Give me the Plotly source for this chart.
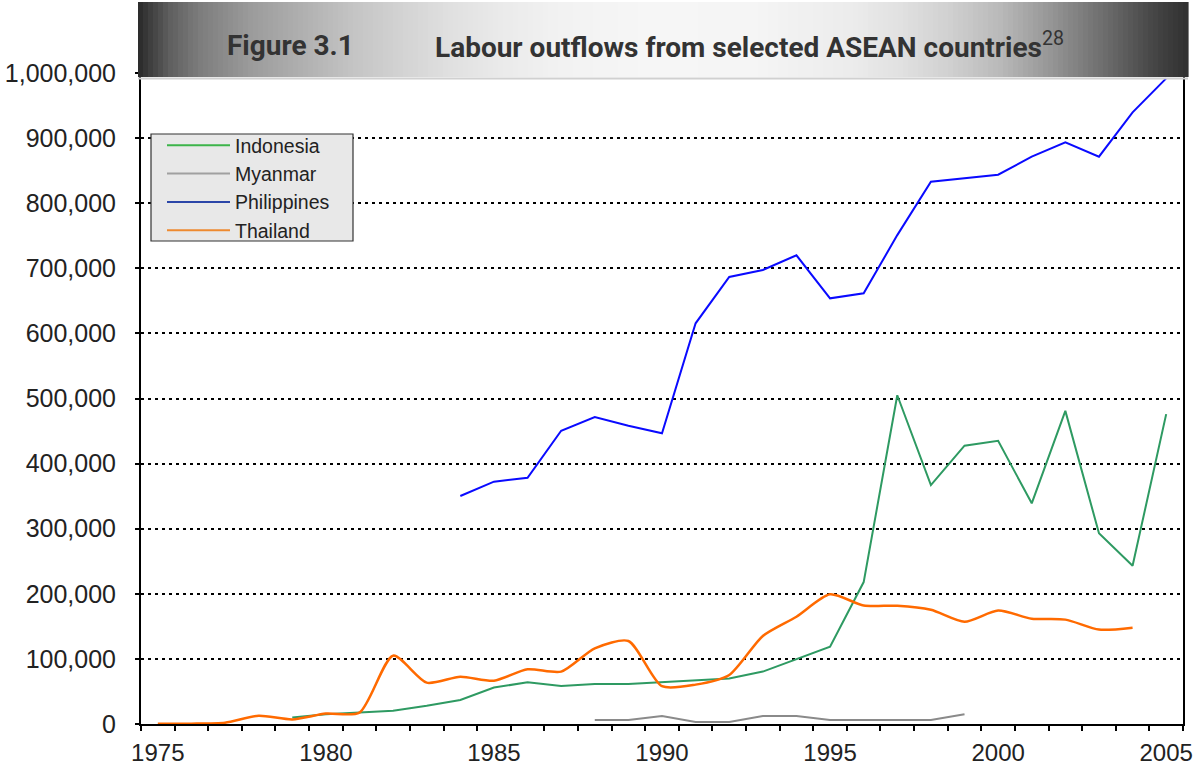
import numpy as np
import plotly.graph_objects as go

# ---- data: annual labour outflows (persons) ----
indonesia_years = list(range(1979, 2006))
indonesia = [10000, 15000, 17500, 20500, 28000, 37000, 56000, 64000, 58500,
             61500, 61500, 64000, 66500, 70000, 80500, 100000, 118700, 218000,
             505000, 367000, 427500, 435000, 339000, 481000, 293000, 243000,
             476000]

myanmar_years = list(range(1988, 2000))
myanmar = [6000, 6000, 12300, 3100, 3100, 12300, 12300, 6100, 6100, 6100,
           6100, 14900]

philippines_years = list(range(1984, 2006))
philippines = [350200, 372200, 378300, 450500, 471600, 458200, 446500, 615500,
               686600, 697400, 719900, 653900, 661600, 751000, 833000, 838200,
               843800, 871500, 893500, 871500, 939600, 991800]

thailand_years = list(range(1975, 2005))
thailand = [500, 500, 2000, 12700, 7000, 16000, 17500, 105000, 63500, 72700,
            66500, 84000, 80400, 116300, 127500, 58000, 60500, 75300, 135200,
            164800, 199200, 182000, 181700, 175500, 157100, 174300, 161800,
            160300, 145000, 148000]

year_labels = [1975, 1980, 1985, 1990, 1995, 2000, 2005]
countries = ["Indonesia", "Myanmar", "Philippines", "Thailand"]

# ---- page geometry (pixels) ----
W, H = 1200, 765
PL, PR, PT, PB = 141, 1183, 73, 724   # plot area edges


def px_x(p):
    return (p - PL) / (PR - PL)


def px_y(p):
    return (PB - p) / (PB - PT)


line_colors = {"Indonesia": "#2e9a62", "Myanmar": "#8a8a8a",
               "Philippines": "#0a0aff", "Thailand": "#ff6a00"}
legend_colors = {"Indonesia": "#3cb44a", "Myanmar": "#a0a0a0",
                 "Philippines": "#2b46a8", "Thailand": "#ee8a30"}

series = {
    "Indonesia": (indonesia_years, indonesia),
    "Myanmar": (myanmar_years, myanmar),
    "Philippines": (philippines_years, philippines),
    "Thailand": (thailand_years, thailand),
}

fig = go.Figure()

for name in countries:
    xs, ys = series[name]
    line = dict(color=line_colors[name], width=2)
    if name == "Thailand":
        line.update(shape="spline", smoothing=0.7, width=2.5)
    fig.add_trace(go.Scatter(x=xs, y=ys, mode="lines", line=line,
                             name=name, showlegend=False, hoverinfo="x+y"))

# legend keys
for name in countries:
    fig.add_trace(go.Scatter(x=[None], y=[None], mode="lines", name=name,
                             line=dict(color=legend_colors[name], width=2)))

# ---- gradient title banner ----
bx0, bx1, by0, by1 = 138, 1188, 2, 77
stop_px = [138, 150, 170, 200, 250, 300, 350, 400, 450, 500, 560, 650, 750,
           850, 900, 950, 1000, 1050, 1100, 1150, 1188]
stop_gray = [40, 62, 95, 125, 155, 175, 195, 210, 224, 234, 242, 246, 245,
             236, 225, 208, 185, 150, 112, 72, 48]
shapes = []
n_strips = 210
edges = np.linspace(bx0, bx1, n_strips + 1)
for i in range(n_strips):
    mid = 0.5 * (edges[i] + edges[i + 1])
    g = int(round(np.interp(mid, stop_px, stop_gray)))
    shapes.append(dict(type="rect", xref="paper", yref="paper",
                       x0=px_x(edges[i]), x1=px_x(edges[i + 1] + 0.6),
                       y0=px_y(by1), y1=px_y(by0),
                       fillcolor=f"rgb({g},{g},{g})", line=dict(width=0),
                       layer="above"))
shapes.append(dict(type="line", xref="paper", yref="paper",
                   x0=px_x(bx0), x1=px_x(bx1), y0=px_y(by1 + 1.5),
                   y1=px_y(by1 + 1.5), line=dict(color="#d0d0d0", width=2),
                   layer="above"))

# legend frame
shapes.append(dict(type="rect", xref="paper", yref="paper",
                   x0=px_x(151), x1=px_x(353), y0=px_y(241), y1=px_y(134),
                   fillcolor="#e8e8e8", line=dict(color="#333333", width=1.2),
                   layer="above"))

title_font = dict(family="Liberation Sans Narrow, Arial Narrow, Roboto, sans-serif",
                  size=28, color="#333333")
annotations = [
    dict(text="<b>Figure 3.1</b>", xref="paper", yref="paper",
         x=px_x(290), y=px_y(45), xanchor="center", yanchor="middle",
         showarrow=False, font=title_font),
    dict(text="<b>Labour outflows from selected ASEAN countries</b><sup>28</sup>",
         xref="paper", yref="paper", x=px_x(433), y=px_y(45),
         xanchor="left", yanchor="middle", showarrow=False, font=title_font),
]

axis_font = dict(family="Liberation Sans, Arial, sans-serif", color="#222222")

fig.update_layout(
    width=W, height=H,
    margin=dict(l=PL, r=W - PR, t=PT, b=H - PB, pad=0, autoexpand=False),
    paper_bgcolor="white", plot_bgcolor="white",
    shapes=shapes, annotations=annotations,
    showlegend=True,
    legend=dict(x=px_x(162), y=px_y(126), xanchor="left", yanchor="top",
                bgcolor="rgba(0,0,0,0)", borderwidth=0,
                font=dict(family="Liberation Sans, Arial, sans-serif",
                          size=19.5, color="#222222"),
                itemwidth=63, tracegroupgap=0),
    xaxis=dict(range=[1974.5, 2005.5], tickmode="array", tickvals=year_labels,
               ticktext=[str(v) for v in year_labels], ticks="",
               tickfont=dict(size=24, **axis_font), ticklabelstandoff=6,
               showgrid=False, zeroline=False, showline=True, automargin=False,
               linecolor="black", linewidth=2,
               minor=dict(tick0=1974.5, dtick=1, ticks="outside", ticklen=5,
                          tickwidth=1.5, tickcolor="black", showgrid=False)),
    yaxis=dict(range=[0, 1000000], dtick=100000, tickformat=",",
               ticks="outside", ticklen=4, tickwidth=1.5, tickcolor="black",
               tickfont=dict(size=25, **axis_font), ticklabelstandoff=14,
               showgrid=True, gridcolor="black", gridwidth=1.5,
               griddash="3px,4px", zeroline=False, showline=True,
               automargin=False, linecolor="black", linewidth=2, mirror=True),
)

fig.write_html("out.html")
